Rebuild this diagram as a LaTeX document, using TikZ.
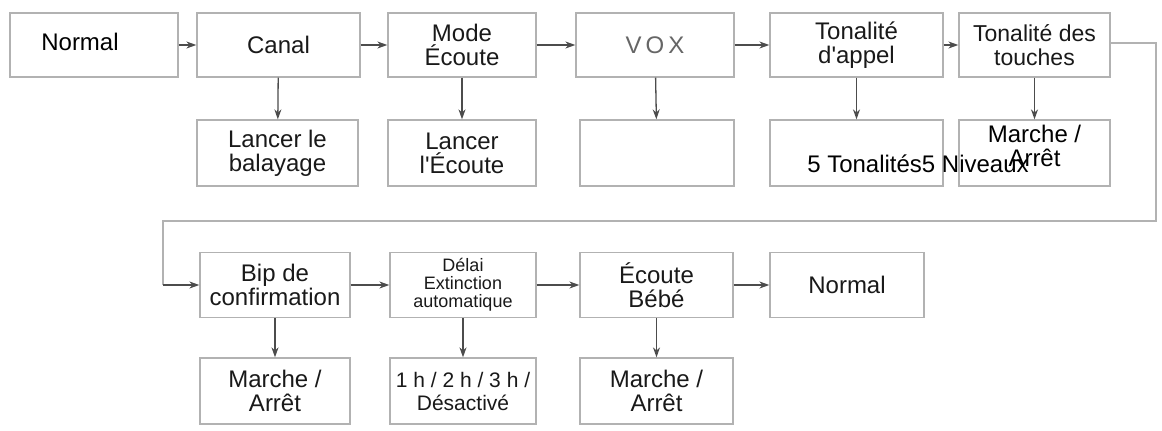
\documentclass[tikz,border=0pt]{standalone}
\usepackage{fontspec}
\setmainfont{Liberation Sans}
\usetikzlibrary{arrows.meta}
\begin{document}
\begin{tikzpicture}[x=1pt,y=-1pt,
 box/.style={draw=black!30,line width=1.3pt,inner sep=1pt,align=center,font=\fontsize{24}{24}\selectfont,text=black!90},
 arr/.style={draw=black!70,line width=1.3pt,-{Stealth[length=10pt,width=7pt]}}]
\useasboundingbox (0,0) rectangle (1162,431);
\node[box,minimum width=168pt,minimum height=64pt] (n1) at (94,45) {};
\node[font=\fontsize{24}{24}\selectfont] (n1t) at (80,42) {Normal};
\node[box,minimum width=163pt,minimum height=64pt] (c) at (278.5,45) {Canal};
\node[box,minimum width=148pt,minimum height=64pt] (m) at (462,45) {Mode\\Écoute};
\node[box,minimum width=158pt,minimum height=64pt,text=black!60] (v) at (655,45) {V\,O\,X};
\node[box,minimum width=173pt,minimum height=64pt] (t) at (856.5,45) {Tonalité\\d\textquotesingle appel};
\node[box,minimum width=151pt,minimum height=64pt,font=\fontsize{23}{24}\selectfont] (tt) at (1034.5,45) {Tonalité des\\touches};
\node[box,minimum width=161pt,minimum height=66pt] (cs) at (277.5,153) {Lancer le\\balayage};
\node[box,minimum width=148pt,minimum height=66pt] (ms) at (462,153) {Lancer\\l\textquotesingle Écoute};
\node[box,minimum width=154pt,minimum height=66pt] (vs) at (657,153) {};
\node[box,minimum width=173pt,minimum height=66pt] (ts) at (856.5,153) {};
\node[font=\fontsize{24}{24}\selectfont] (tst) at (918,164) {5 Tonalités5 Niveaux};
\node[box,minimum width=151pt,minimum height=66pt] (tts) at (1034.5,153) {};
\node[font=\fontsize{24}{24}\selectfont,align=center] (ttst) at (1034.5,146) {Marche /\\Arrêt};
\node[box,minimum width=150pt,minimum height=65pt] (b) at (275,285) {Bip de\\confirmation};
\node[box,minimum width=146pt,minimum height=65pt,font=\fontsize{18}{18}\selectfont] (d) at (463,285) {Délai\\Extinction\\automatique};
\node[box,minimum width=153pt,minimum height=65pt] (e) at (656.5,285) {Écoute\\Bébé};
\node[box,minimum width=154pt,minimum height=65pt] (n2) at (847,285) {Normal};
\node[box,minimum width=150pt,minimum height=66pt] (bs) at (275,391) {Marche /\\Arrêt};
\node[box,minimum width=146pt,minimum height=66pt,font=\fontsize{21}{23}\selectfont] (ds) at (463,391) {1 h / 2 h / 3 h /\\Désactivé};
\node[box,minimum width=153pt,minimum height=66pt] (es) at (656.5,391) {Marche /\\Arrêt};
\draw[arr] (n1) -- (c);
\draw[arr] (c) -- (m);
\draw[arr] (m) -- (v);
\draw[arr] (v) -- (t);
\draw[arr] (t) -- (tt);
\foreach \a/\s in {c/cs,m/ms,v/vs,t/ts,tt/tts,b/bs,d/ds,e/es} \draw[arr] (\a) -- (\s);
\draw[arr] (b) -- (d);
\draw[arr] (d) -- (e);
\draw[arr] (e) -- (n2);
\coordinate (w1) at (1156,43);
\coordinate (w2) at (1156,221);
\coordinate (w3) at (163,221);
\coordinate (w4) at (163,285);
\draw[draw=black!30,line width=1.3pt] (tt.east|-w1) -- (w1) -- (w2) -- (w3) -- (w4);
\draw[arr] (w4) -- (b.west);
\end{tikzpicture}
\end{document}
